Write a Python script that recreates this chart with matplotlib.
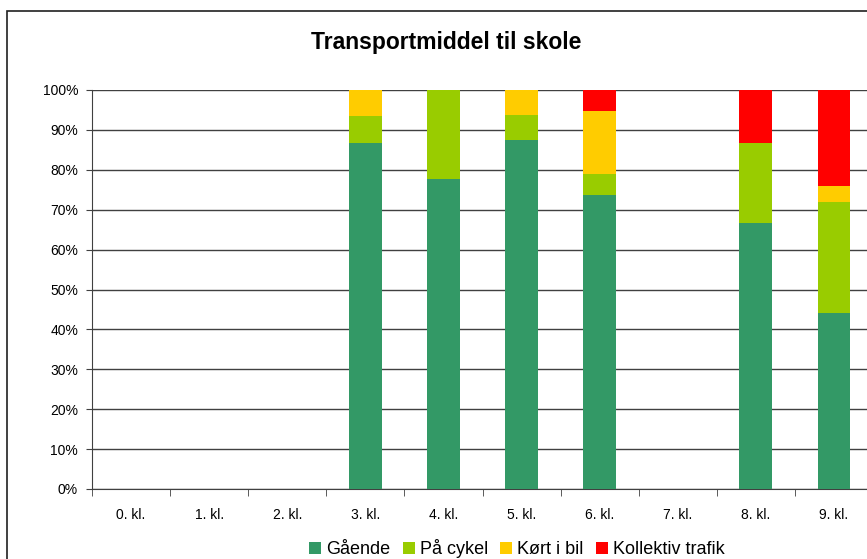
import numpy as np
import matplotlib
matplotlib.use("Agg")
import matplotlib.pyplot as plt
from matplotlib.patches import Rectangle

plt.rcParams['font.family'] = ['Liberation Sans', 'DejaVu Sans']

# andel elever pr. klassetrin (procent)
klasser = ['0. kl.', '1. kl.', '2. kl.', '3. kl.', '4. kl.',
           '5. kl.', '6. kl.', '7. kl.', '8. kl.', '9. kl.']
gaaende = [0, 0, 0, 86.7, 77.8, 87.5, 73.7, 0, 66.7, 44.0]
cykel = [0, 0, 0, 6.7, 22.2, 6.25, 5.3, 0, 20.0, 28.0]
bil = [0, 0, 0, 6.6, 0, 6.25, 15.8, 0, 0, 4.0]
kollektiv = [0, 0, 0, 0, 0, 0, 5.2, 0, 13.3, 24.0]

serier = ['Gående', 'På cykel', 'Kørt i bil', 'Kollektiv trafik']
farver = ['#339966', '#99CC00', '#FFCC00', '#FF0000']

fig = plt.figure(figsize=(8.67, 5.59), dpi=100)
ax = fig.add_axes([92 / 867, 70 / 559, 781 / 867, 399 / 559])

x = np.arange(len(klasser))
bund = np.zeros(len(klasser))
for navn, vals, farve in zip(serier, [gaaende, cykel, bil, kollektiv], farver):
    vals = np.array(vals)
    ax.bar(x, vals, width=0.42, bottom=bund, color=farve, label=navn, zorder=3)
    bund += vals

ax.set_xlim(-0.5, len(klasser) - 0.5)
ax.set_ylim(0, 100)
ax.set_yticks(np.arange(0, 101, 10))
ax.set_yticklabels([f'{v}%' for v in range(0, 101, 10)], fontsize=10)
ax.set_xticks(x)
ax.set_xticklabels(klasser, fontsize=10)
ax.set_xticks(np.arange(-0.5, len(klasser)), minor=True)
ax.tick_params(axis='x', which='major', length=0, pad=14)
ax.tick_params(axis='x', which='minor', length=5, direction='out', color='#404040')
ax.tick_params(axis='y', length=4, direction='out', pad=6, color='#404040')

ax.grid(axis='y', color='#404040', linewidth=1, zorder=0)
for s in ['top', 'right']:
    ax.spines[s].set_visible(False)
ax.spines['left'].set_color('#404040')
ax.spines['bottom'].set_color('#404040')

fig.text(446 / 867, 1 - 43 / 559, 'Transportmiddel til skole', ha='center',
         va='center', fontsize=16.5, fontweight='bold')

fig.legend(loc='center', bbox_to_anchor=(517 / 867, 1 - 549 / 559), ncol=4,
           frameon=False, fontsize=13, handlelength=0.67, handleheight=0.67,
           handletextpad=0.28, columnspacing=0.67)

# ramme om diagrammet
fig.patches.append(Rectangle((7 / 867, -0.1), 2, 1.1 - 11 / 559,
                             transform=fig.transFigure, fill=False,
                             edgecolor='#202020', linewidth=1.2))

fig.savefig('out.png', dpi=100)
